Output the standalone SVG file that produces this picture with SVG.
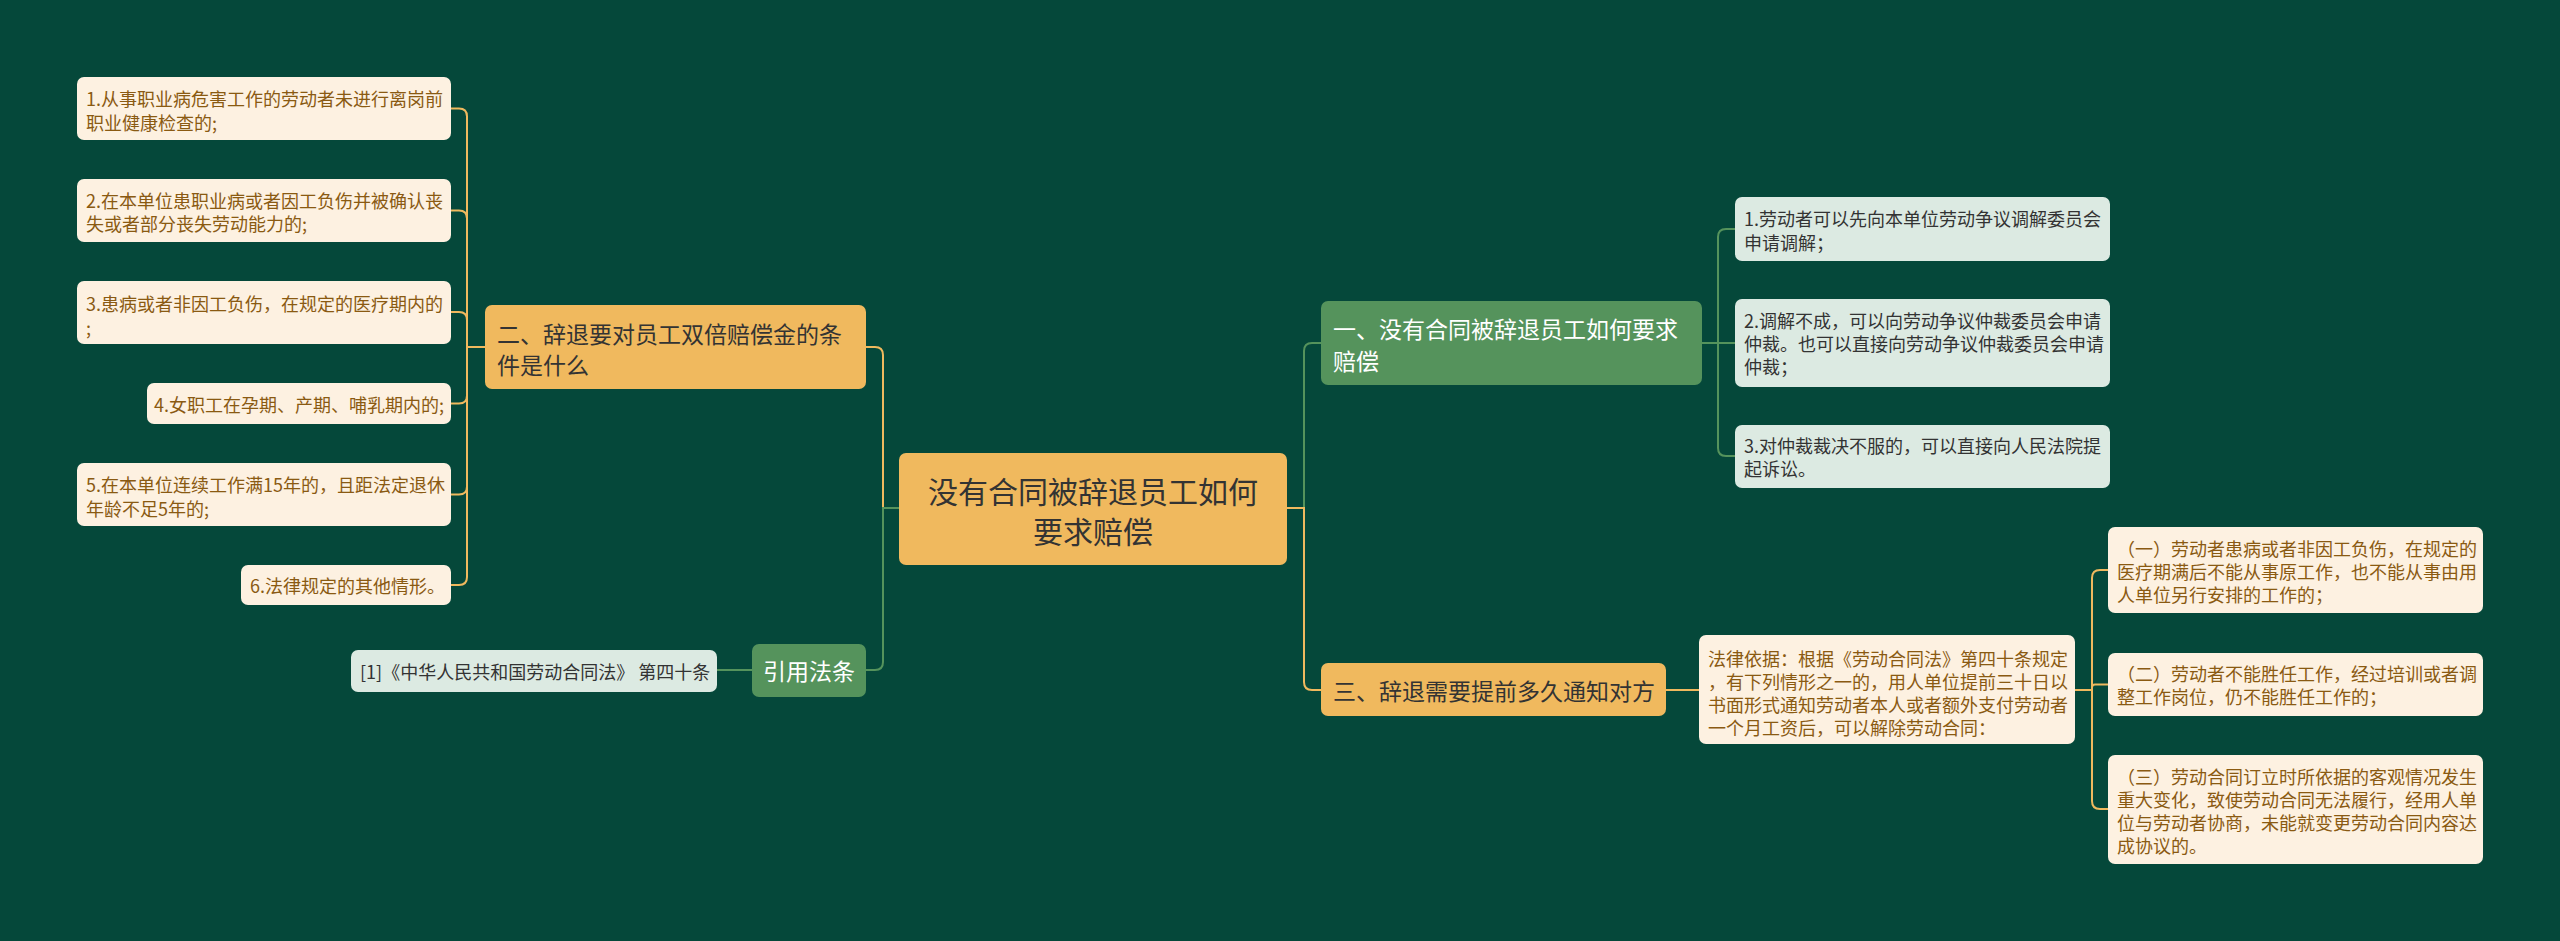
<svg xmlns="http://www.w3.org/2000/svg" width="2560" height="941" viewBox="0 0 2560 941">
<style>
text{font-family:"Noto Sans CJK SC","Noto Sans",sans-serif;dominant-baseline:central}
.bg{fill:#05483a}
.root{fill:#f0b95e}
.ob{fill:#f0b95e}
.gb{fill:#55935c}
.ol{fill:#fdf1e1}
.gl{fill:#dceae2}
.tr{font-size:30px;fill:#333333;text-anchor:middle}
.tb{font-size:23px;fill:#333333}
.tw{font-size:23px;fill:#ffffff}
.to{font-size:18px;fill:#8a5a12}
.tg{font-size:18px;fill:#333333}
.co{fill:none;stroke:#f0b95e;stroke-width:2}
.cg{fill:none;stroke:#55935c;stroke-width:2}
</style>
<rect class="bg" x="0" y="0" width="2560" height="941"/>
<g id="connectors">
<path class="co" d="M899 508 H883 V355 Q883 347 875 347 H866"/>
<path class="cg" d="M899 508 H883 V662 Q883 670 875 670 H866"/>
<path class="cg" d="M1287 508 H1304 V351 Q1304 343 1312 343 H1321"/>
<path class="co" d="M1287 508 H1304 V682 Q1304 690 1312 690 H1321"/>
<path class="co" d="M485 347 H467 V116.5 Q467 108.5 459 108.5 H451"/>
<path class="co" d="M485 347 H467 V218.5 Q467 210.5 459 210.5 H451"/>
<path class="co" d="M485 347 H467 V320 Q467 312 459 312 H451"/>
<path class="co" d="M485 347 H467 V395.5 Q467 403.5 459 403.5 H451"/>
<path class="co" d="M485 347 H467 V486.5 Q467 494.5 459 494.5 H451"/>
<path class="co" d="M485 347 H467 V577 Q467 585 459 585 H451"/>
<path class="cg" d="M752 670 H717"/>
<path class="cg" d="M1702 343 H1718 V237 Q1718 229 1726 229 H1735"/>
<path class="cg" d="M1702 343 H1735"/>
<path class="cg" d="M1702 343 H1718 V448 Q1718 456 1726 456 H1735"/>
<path class="co" d="M1666 690 H1699"/>
<path class="co" d="M2075 690 H2092 V578 Q2092 570 2100 570 H2108"/>
<path class="co" d="M2075 690 H2092 V687.5 Q2092 684.5 2095 684.5 H2108"/>
<path class="co" d="M2075 690 H2092 V801 Q2092 809 2100 809 H2108"/>
</g>
<g id="root">
<rect class="root" x="899" y="453" width="388" height="112" rx="7"/>
<text class="tr" x="1093" y="490">没有合同被辞退员工如何</text>
<text class="tr" x="1093" y="530">要求赔偿</text>
</g>
<g id="b2">
<rect class="ob" x="485" y="305" width="381" height="84" rx="7"/>
<text class="tb" x="497" y="333">二、辞退要对员工双倍赔偿金的条</text>
<text class="tb" x="497" y="364">件是什么</text>
</g>
<g id="l1">
<rect class="ol" x="77" y="77" width="374" height="63" rx="7"/>
<text class="to" x="86" y="98">1.从事职业病危害工作的劳动者未进行离岗前</text>
<text class="to" x="86" y="122">职业健康检查的;</text>
</g>
<g id="l2">
<rect class="ol" x="77" y="179" width="374" height="63" rx="7"/>
<text class="to" x="86" y="200">2.在本单位患职业病或者因工负伤并被确认丧</text>
<text class="to" x="86" y="223">失或者部分丧失劳动能力的;</text>
</g>
<g id="l3">
<rect class="ol" x="77" y="281" width="374" height="63" rx="7"/>
<text class="to" x="86" y="303">3.患病或者非因工负伤，在规定的医疗期内的</text>
<text class="to" x="86" y="327">;</text>
</g>
<g id="l4">
<rect class="ol" x="147" y="383" width="304" height="41" rx="7"/>
<text class="to" x="154" y="404">4.女职工在孕期、产期、哺乳期内的;</text>
</g>
<g id="l5">
<rect class="ol" x="77" y="463" width="374" height="63" rx="7"/>
<text class="to" x="86" y="484">5.在本单位连续工作满15年的，且距法定退休</text>
<text class="to" x="86" y="508">年龄不足5年的;</text>
</g>
<g id="l6">
<rect class="ol" x="241" y="565" width="210" height="40" rx="7"/>
<text class="to" x="250" y="585">6.法律规定的其他情形。</text>
</g>
<g id="cite">
<rect class="gb" x="752" y="644" width="114" height="53" rx="7"/>
<text class="tw" x="809" y="670" text-anchor="middle">引用法条</text>
</g>
<g id="citeleaf">
<rect class="gl" x="351" y="650" width="366" height="42" rx="7"/>
<text class="tg" x="360" y="671">[1]《中华人民共和国劳动合同法》 第四十条</text>
</g>
<g id="b1">
<rect class="gb" x="1321" y="301" width="381" height="84" rx="7"/>
<text class="tw" x="1333" y="328">一、没有合同被辞退员工如何要求</text>
<text class="tw" x="1333" y="360">赔偿</text>
</g>
<g id="r1">
<rect class="gl" x="1735" y="197" width="375" height="64" rx="7"/>
<text class="tg" x="1744" y="218">1.劳动者可以先向本单位劳动争议调解委员会</text>
<text class="tg" x="1744" y="242">申请调解；</text>
</g>
<g id="r2">
<rect class="gl" x="1735" y="299" width="375" height="88" rx="7"/>
<text class="tg" x="1744" y="320">2.调解不成，可以向劳动争议仲裁委员会申请</text>
<text class="tg" x="1744" y="343">仲裁。也可以直接向劳动争议仲裁委员会申请</text>
<text class="tg" x="1744" y="366">仲裁；</text>
</g>
<g id="r3">
<rect class="gl" x="1735" y="425" width="375" height="63" rx="7"/>
<text class="tg" x="1744" y="445">3.对仲裁裁决不服的，可以直接向人民法院提</text>
<text class="tg" x="1744" y="468">起诉讼。</text>
</g>
<g id="b3">
<rect class="ob" x="1321" y="663" width="345" height="53" rx="7"/>
<text class="tb" x="1333" y="690">三、辞退需要提前多久通知对方</text>
</g>
<g id="law">
<rect class="ol" x="1699" y="635" width="376" height="109" rx="7"/>
<text class="to" x="1708" y="658">法律依据：根据《劳动合同法》第四十条规定</text>
<text class="to" x="1708" y="681">，有下列情形之一的，用人单位提前三十日以</text>
<text class="to" x="1708" y="704">书面形式通知劳动者本人或者额外支付劳动者</text>
<text class="to" x="1708" y="727">一个月工资后，可以解除劳动合同：</text>
</g>
<g id="s1">
<rect class="ol" x="2108" y="527" width="375" height="86" rx="7"/>
<text class="to" x="2117" y="548">（一）劳动者患病或者非因工负伤，在规定的</text>
<text class="to" x="2117" y="571">医疗期满后不能从事原工作，也不能从事由用</text>
<text class="to" x="2117" y="594">人单位另行安排的工作的；</text>
</g>
<g id="s2">
<rect class="ol" x="2108" y="653" width="375" height="63" rx="7"/>
<text class="to" x="2117" y="673">（二）劳动者不能胜任工作，经过培训或者调</text>
<text class="to" x="2117" y="696">整工作岗位，仍不能胜任工作的；</text>
</g>
<g id="s3">
<rect class="ol" x="2108" y="755" width="375" height="109" rx="7"/>
<text class="to" x="2117" y="776">（三）劳动合同订立时所依据的客观情况发生</text>
<text class="to" x="2117" y="799">重大变化，致使劳动合同无法履行，经用人单</text>
<text class="to" x="2117" y="822">位与劳动者协商，未能就变更劳动合同内容达</text>
<text class="to" x="2117" y="845">成协议的。</text>
</g>
</svg>
